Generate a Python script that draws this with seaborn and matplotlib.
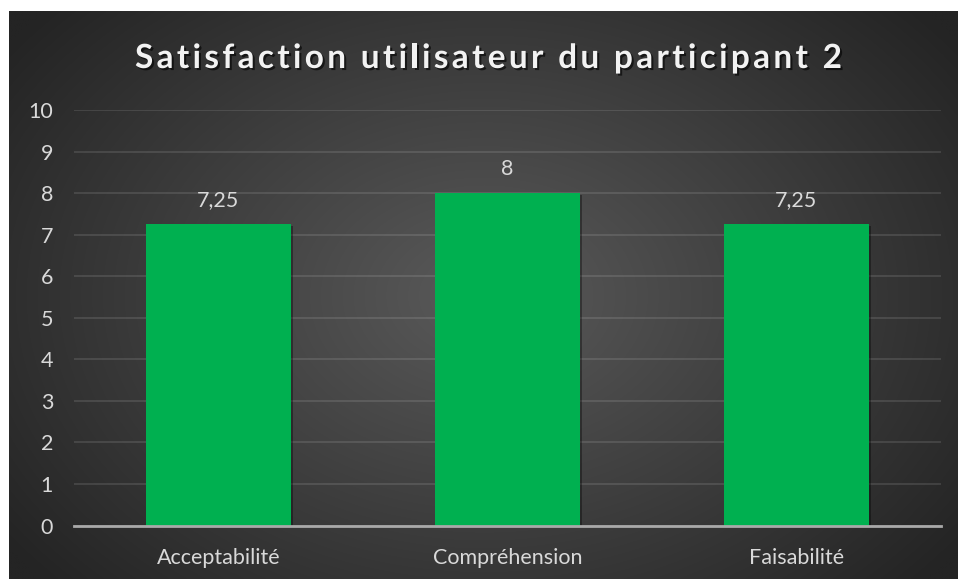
import numpy as np
import pandas as pd
import matplotlib
matplotlib.use("Agg")
import matplotlib.pyplot as plt
import matplotlib.patheffects as pe
from matplotlib.font_manager import FontProperties
from matplotlib.textpath import TextToPath
import seaborn as sns

categories = ["Acceptabilité", "Compréhension", "Faisabilité"]
values = [7.25, 8, 7.25]
value_labels = ["7,25", "8", "7,25"]
yticks = [0, 1, 2, 3, 4, 5, 6, 7, 8, 9, 10]
title = "Satisfaction utilisateur du participant 2"

df = pd.DataFrame({"cat": categories, "val": values})

sns.set_theme(style="dark")
plt.rcParams["font.family"] = ["Lato", "DejaVu Sans"]

W, H = 958, 579
fig = plt.figure(figsize=(W / 100, H / 100), dpi=100, facecolor="white")

# background gradient panel
bg = fig.add_axes([9 / W, 0, 1 - 9 / W, (H - 11) / H])
bg.set_axis_off()
ny, nx = 300, 500
yy, xx = np.mgrid[0:ny, 0:nx]
cx, cy = nx * 0.5, ny * 0.5
r = np.sqrt(((xx - cx) / (nx * 0.62)) ** 2 + ((yy - cy) / (ny * 0.75)) ** 2)
r = np.clip(r, 0, 1)
c_in, c_out = np.array([0x5a, 0x5a, 0x5a]) / 255, np.array([0x24, 0x24, 0x24]) / 255
img = c_in[None, None, :] * (1 - r[..., None]) + c_out[None, None, :] * r[..., None]
bg.imshow(img, aspect="auto", extent=[0, 1, 0, 1], interpolation="bilinear")
bg.set_xlim(0, 1)
bg.set_ylim(0, 1)

ax = fig.add_axes([74 / W, 1 - 525.5 / H, (941 - 74) / W, (525.5 - 110) / H])
ax.set_facecolor("none")
sns.barplot(data=df, x="cat", y="val", order=categories, color="#00B050",
            saturation=1, width=0.5, ax=ax, zorder=3)
for p in ax.patches:
    p.set_edgecolor("none")
    p.set_path_effects([pe.SimplePatchShadow(offset=(1.5, -1.5), shadow_rgbFace="black", alpha=0.35), pe.Normal()])

ax.set_ylim(0, 10)
ax.set_xlim(-0.5, 2.5)
ax.set_yticks(yticks)
ax.set_yticklabels([str(t) for t in yticks])
ax.grid(axis="y", color="white", alpha=0.12, linewidth=1.3, zorder=0)
ax.grid(axis="x", visible=False)
for s in ["top", "right", "left"]:
    ax.spines[s].set_visible(False)
ax.spines["bottom"].set_color("#a9a9a9")
ax.spines["bottom"].set_linewidth(2)
ax.spines["bottom"].set_zorder(4)
ax.tick_params(axis="both", length=0, colors="#d9d9d9", labelsize=15.5)
ax.tick_params(axis="y", pad=15)
ax.tick_params(axis="x", pad=16)
ax.set_xlabel("")
ax.set_ylabel("")

ax.bar_label(ax.containers[0], labels=value_labels, padding=10, color="#d9d9d9", fontsize=15.5)

# letter-spaced title
fsize = 24
prop = FontProperties(family=["Lato", "DejaVu Sans"], weight="bold", size=fsize)
t2p = TextToPath()
px_per_unit = 100 / 72.0
target_w = 707.0
def width(s):
    if not s:
        return 0.0
    w, h, d = t2p.get_text_width_height_descent(s, prop, ismath=False)
    return w * px_per_unit
natural = width(title)
gap = (target_w - natural) / (len(title) - 1)
x0 = 488.5 - target_w / 2
for i, ch in enumerate(title):
    if ch == " ":
        continue
    x = x0 + width(title[:i]) + i * gap
    fig.text(x / W, 1 - 58.5 / H, ch, ha="left", va="center", fontproperties=prop,
             color="#f2f2f2",
             path_effects=[pe.withSimplePatchShadow(offset=(1.5, -1.5), shadow_rgbFace="black", alpha=0.6)])

fig.savefig("out.png", dpi=100, facecolor="white")
